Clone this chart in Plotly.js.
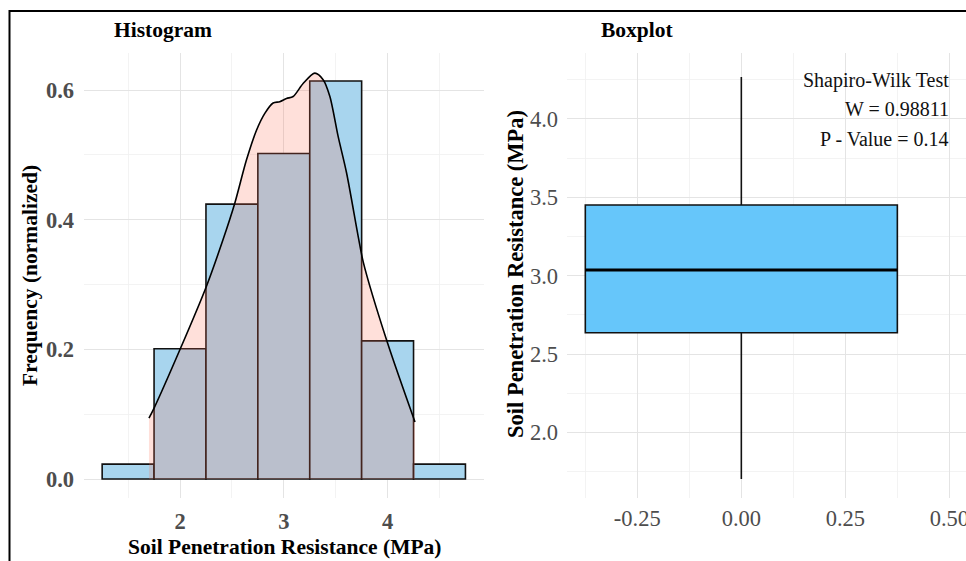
<!DOCTYPE html>
<html>
<head>
<meta charset="utf-8">
<script src="https://cdn.plot.ly/plotly-3.0.1.min.js"></script>
<style>html,body{margin:0;padding:0;background:#fff;}#chart{width:966px;height:561px;}</style>
</head>
<body>
<div id="chart"></div>
<script>
// ---- Data ----
const binCenters = [1.5, 2.0, 2.5, 3.0, 3.5, 4.0, 4.5];
const binDensity = [0.023, 0.201, 0.424, 0.502, 0.614, 0.213, 0.023];
const binWidth = 0.5;

const densX = [1.701, 1.749, 2.006, 2.254, 2.414, 2.527, 2.640, 2.737, 2.817, 2.897, 2.961, 3.026,
               3.090, 3.186, 3.299, 3.379, 3.444, 3.524, 3.605, 3.717, 3.765, 3.991, 4.264];
const densY = [0.094, 0.109, 0.202, 0.297, 0.369, 0.425, 0.492, 0.538, 0.564, 0.580, 0.582, 0.587,
               0.590, 0.610, 0.626, 0.616, 0.590, 0.528, 0.472, 0.374, 0.335, 0.214, 0.088];

const boxPos = [0];
const boxLower = [1.702];
const boxQ1 = [2.636];
const boxMedian = [3.036];
const boxQ3 = [3.451];
const boxUpper = [4.268];
const boxWidth = 0.75;

const boxXTickVals = [-0.25, 0, 0.25, 0.5];
const boxXTickText = ["-0.25", "0.00", "0.25", "0.50"];

const testLines = ["Shapiro-Wilk Test", "W = 0.98811", "P - Value = 0.14"];
const testY = [4.244, 4.064, 3.872];

// ---- Layout helpers (pixel -> paper) ----
const W = 966, H = 561;
const px = v => v / W;
const py = v => 1 - v / H;

const FONT = "Liberation Serif, Times New Roman, serif";
const GRID = "#e4e4e4", MINOR = "#f0f0f0";

const traces = [
  {
    type: "bar", x: binCenters, y: binDensity, width: binWidth,
    marker: {color: "#a8d5ee", line: {color: "#111", width: 1.6}},
    xaxis: "x", yaxis: "y", hoverinfo: "skip", showlegend: false
  },
  {
    type: "scatter", mode: "lines", x: densX, y: densY,
    line: {color: "#000", width: 1.6, shape: "spline", smoothing: 0.8},
    fill: "tozeroy", fillcolor: "rgba(255,110,80,0.21)",
    xaxis: "x", yaxis: "y", hoverinfo: "skip", showlegend: false
  },
  {
    type: "box", orientation: "v", x: boxPos,
    q1: boxQ1, median: boxMedian, q3: boxQ3, lowerfence: boxLower, upperfence: boxUpper,
    width: boxWidth, whiskerwidth: 0,
    fillcolor: "#66c6fa", line: {color: "#111", width: 1.6},
    xaxis: "x2", yaxis: "y2", hoverinfo: "skip", showlegend: false
  },
  {
    type: "scatter", mode: "lines",
    x: [boxPos[0] - boxWidth / 2, boxPos[0] + boxWidth / 2],
    y: [boxMedian[0], boxMedian[0]],
    line: {color: "#000", width: 3.2},
    xaxis: "x2", yaxis: "y2", hoverinfo: "skip", showlegend: false
  }
];

const tickFontBold = {family: FONT, size: 22.5, color: "#4d4d4d", weight: "bold"};
const tickFont = {family: FONT, size: 22.5, color: "#4d4d4d"};

const layout = {
  width: W, height: H,
  margin: {l: 0, r: 0, t: 0, b: 0},
  paper_bgcolor: "#fff", plot_bgcolor: "#fff",
  font: {family: FONT},
  showlegend: false,
  xaxis: {
    domain: [px(84), px(483.6)], range: [1.075, 4.925],
    tickmode: "linear", tick0: 0, dtick: 1,
    showgrid: true, gridcolor: GRID, gridwidth: 1,
    minor: {tickmode: "linear", tick0: 0, dtick: 0.5, showgrid: true, gridcolor: MINOR, gridwidth: 0.8},
    zeroline: false, showline: false, ticks: "", ticklabelstandoff: 7,
    tickfont: tickFontBold, anchor: "y"
  },
  yaxis: {
    domain: [py(498), py(53)], range: [-0.0293, 0.6571],
    tickmode: "linear", tick0: 0, dtick: 0.2, tickformat: ".1f",
    showgrid: true, gridcolor: GRID, gridwidth: 1,
    minor: {tickmode: "linear", tick0: 0, dtick: 0.1, showgrid: true, gridcolor: MINOR, gridwidth: 0.8},
    zeroline: false, showline: false, ticks: "", ticklabelstandoff: 9,
    tickfont: tickFontBold, anchor: "x"
  },
  xaxis2: {
    domain: [px(567), 1], range: [-0.419, 0.540],
    tickmode: "array", tickvals: boxXTickVals, ticktext: boxXTickText,
    showgrid: true, gridcolor: GRID, gridwidth: 1,
    minor: {tickmode: "array", tickvals: [-0.375, -0.125, 0.125, 0.375], showgrid: true, gridcolor: MINOR, gridwidth: 0.8},
    zeroline: false, showline: false, ticks: "", ticklabelstandoff: 4,
    ticklabeloverflow: "allow",
    tickfont: tickFont, anchor: "y2"
  },
  yaxis2: {
    domain: [py(498), py(53)], range: [1.581, 4.421],
    tickmode: "linear", tick0: 0, dtick: 0.5, tickformat: ".1f",
    showgrid: true, gridcolor: GRID, gridwidth: 1,
    minor: {tickmode: "linear", tick0: 0, dtick: 0.25, showgrid: true, gridcolor: MINOR, gridwidth: 0.8},
    zeroline: false, showline: false, ticks: "", ticklabelstandoff: 8,
    tickfont: tickFont, anchor: "x2"
  },
  shapes: [
    {type: "rect", xref: "paper", yref: "paper", x0: px(9.5), x1: 1.02, y0: -0.03, y1: py(11),
     line: {color: "#000", width: 2}, fillcolor: "rgba(0,0,0,0)", layer: "above"}
  ],
  annotations: [
    {text: "<b>Histogram</b>", xref: "paper", yref: "paper", x: px(112), y: py(30),
     xanchor: "left", yanchor: "middle", showarrow: false, font: {family: FONT, size: 21.5, color: "#000"}},
    {text: "<b>Boxplot</b>", xref: "paper", yref: "paper", x: px(599), y: py(30),
     xanchor: "left", yanchor: "middle", showarrow: false, font: {family: FONT, size: 21.5, color: "#000"}},
    {text: "<b>Soil Penetration Resistance (MPa)</b>", xref: "paper", yref: "paper", x: px(284.5), y: py(546.5),
     xanchor: "center", yanchor: "middle", showarrow: false, font: {family: FONT, size: 21.5, color: "#000"}},
    {text: "<b>Frequency (normalized)</b>", xref: "paper", yref: "paper", x: px(30), y: py(276),
     xanchor: "center", yanchor: "middle", textangle: -90, showarrow: false, font: {family: FONT, size: 21.5, color: "#000"}},
    {text: "<b>Soil Penetration Resistance (MPa)</b>", xref: "paper", yref: "paper", x: px(515), y: py(274),
     xanchor: "center", yanchor: "middle", textangle: -90, showarrow: false, font: {family: FONT, size: 22.5, color: "#000"}}
  ].concat(testLines.map((t, i) => ({
    text: t, xref: "x2", yref: "y2", x: 0.5, y: testY[i], borderpad: 0, borderwidth: 0,
    xanchor: "right", yanchor: "middle", showarrow: false, font: {family: FONT, size: 20, color: "#111"}
  })))
};

Plotly.newPlot("chart", traces, layout, {staticPlot: true, displayModeBar: false});
</script>
</body>
</html>
